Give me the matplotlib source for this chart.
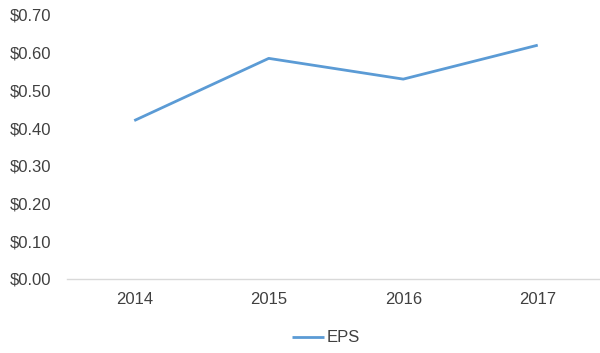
import matplotlib
matplotlib.use("Agg")
import matplotlib.pyplot as plt
from matplotlib.ticker import FuncFormatter

years = ["2014", "2015", "2016", "2017"]
eps = [0.42, 0.585, 0.53, 0.62]
y_ticks = [0.0, 0.1, 0.2, 0.3, 0.4, 0.5, 0.6, 0.7]

plt.rcParams["font.family"] = ["Liberation Sans", "DejaVu Sans"]
text_color = "#404040"
line_color = "#5B9BD5"

W, H = 600, 353
fig = plt.figure(figsize=(W / 100, H / 100), dpi=100)
ax = fig.add_axes([67 / W, (H - 279) / H, (605 - 67) / W, (279 - 15) / H])

x = list(range(len(years)))
ax.plot(x, eps, color=line_color, linewidth=2.0, label="EPS", solid_capstyle="butt")

ax.set_xlim(-0.5, len(years) - 0.5)
ax.set_ylim(0, 0.7)
ax.set_xticks(x)
ax.set_xticklabels(years)
ax.set_yticks(y_ticks)
ax.yaxis.set_major_formatter(FuncFormatter(lambda v, _: f"${v:.2f}"))

for side in ("top", "right", "left"):
    ax.spines[side].set_visible(False)
ax.spines["bottom"].set_color("#d9d9d9")
ax.spines["bottom"].set_linewidth(1.0)

ax.tick_params(axis="both", length=0, labelsize=12, colors=text_color)
ax.tick_params(axis="y", pad=11)
ax.tick_params(axis="x", pad=9)

fig.legend(loc="center", bbox_to_anchor=(326 / W, (H - 338) / H), frameon=False,
           fontsize=12, handlelength=1.9, handletextpad=0.2, labelcolor=text_color)

fig.savefig("out.png", dpi=100, facecolor="white")
